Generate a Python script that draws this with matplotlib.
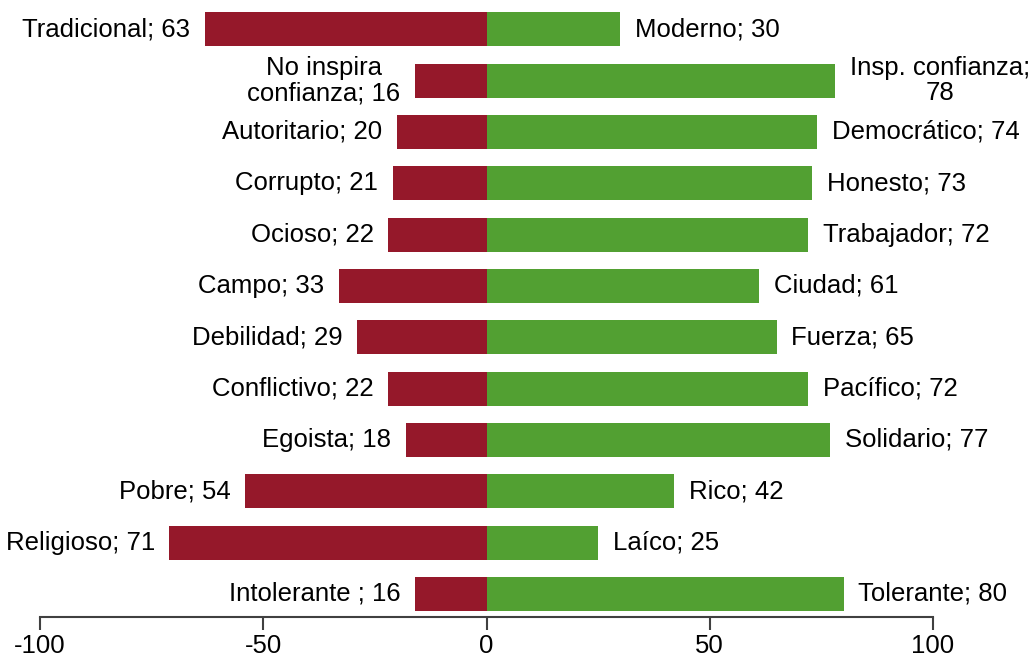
import matplotlib
matplotlib.use("Agg")
from matplotlib import pyplot as plt

plt.rcParams['font.family'] = ['Liberation Sans', 'DejaVu Sans']

# rows from top to bottom
left_vals = [63, 16, 20, 21, 22, 33, 29, 22, 18, 54, 71, 16]
right_vals = [30, 78, 74, 73, 72, 61, 65, 72, 77, 42, 25, 80]
left_labels = ["Tradicional; 63", "No inspira\nconfianza; 16", "Autoritario; 20",
               "Corrupto; 21", "Ocioso; 22", "Campo; 33", "Debilidad; 29",
               "Conflictivo; 22", "Egoista; 18", "Pobre; 54", "Religioso; 71",
               "Intolerante ; 16"]
right_labels = ["Moderno; 30", "Insp. confianza;\n78", "Democrático; 74",
                "Honesto; 73", "Trabajador; 72", "Ciudad; 61", "Fuerza; 65",
                "Pacífico; 72", "Solidario; 77", "Rico; 42", "Laíco; 25",
                "Tolerante; 80"]
xticks = [-100, -50, 0, 50, 100]

RED = "#95182A"
GREEN = "#52A032"
AXCOL = "#404040"
FS = 18.5

fig = plt.figure(figsize=(10.28, 6.63), dpi=100)
ax = fig.add_axes([40 / 1028, 1 - 617 / 663, 893 / 1028, 616 / 663])

rows = list(range(len(left_vals)))
ax.barh(rows, [-v for v in left_vals], height=0.66, color=RED, linewidth=0)
ax.barh(rows, right_vals, height=0.66, color=GREEN, linewidth=0)

gap = 3.3
for r, lv, rv, ll, rl in zip(rows, left_vals, right_vals, left_labels, right_labels):
    ax.text(-lv - gap, r, ll, ha="right", va="center", fontsize=FS,
            multialignment="center", linespacing=1.05)
    ax.text(rv + gap, r, rl, ha="left", va="center", fontsize=FS,
            multialignment="center", linespacing=1.05)

ax.set_xlim(-100, 100)
ax.set_ylim(len(rows) - 0.55, -0.55)
ax.set_xticks(xticks)
ax.set_xticklabels([str(t) for t in xticks], fontsize=FS)
ax.set_yticks([])
for s in ("top", "left", "right"):
    ax.spines[s].set_visible(False)
ax.spines["bottom"].set_color(AXCOL)
ax.spines["bottom"].set_linewidth(1.5)
ax.spines["bottom"].set_bounds(-100, 100)
ax.tick_params(axis="x", length=9, width=1.5, color=AXCOL, pad=3)

fig.savefig("out.png", dpi=100)
